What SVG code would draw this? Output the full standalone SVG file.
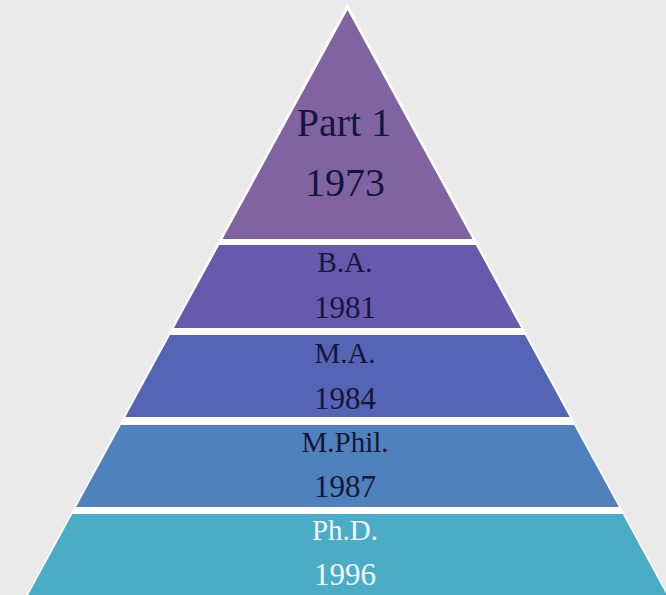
<svg xmlns="http://www.w3.org/2000/svg" width="666" height="595" viewBox="0 0 666 595">
  <style>
    .t { font-family: "Liberation Serif", "Times New Roman", serif; text-anchor: middle; fill: #16163a; }
    .big { font-size: 40px; }
    .lbl { font-size: 29px; }
    .yr { font-size: 31px; }
    .light { fill: #f2f8ff; }
  </style>
  <rect x="0" y="0" width="666" height="595" fill="#eaeaea"/>
  <polygon id="outline" points="347.5,3.7 671.3,600 23.7,600" fill="#ffffff"/>
  <g id="part1">
    <polygon points="347.5,10 472.5,239 222.5,239" fill="#8064a2"/>
    <text class="t big" x="344" y="136">Part 1</text>
    <text class="t big" x="345" y="196">1973</text>
  </g>
  <g id="ba">
    <polygon points="219.2,245 475.8,245 521.1,328 173.9,328" fill="#6759ac"/>
    <text class="t lbl" x="345" y="272">B.A.</text>
    <text class="t yr" x="345" y="318">1981</text>
  </g>
  <g id="ma">
    <polygon points="170,335 525,335 569.7,417 125.3,417" fill="#5564b4"/>
    <text class="t lbl" x="345" y="363">M.A.</text>
    <text class="t yr" x="345" y="409">1984</text>
  </g>
  <g id="mphil">
    <polygon points="120.9,425 574.1,425 618.9,507 76.1,507" fill="#4f81bd"/>
    <text class="t lbl" x="345" y="452">M.Phil.</text>
    <text class="t yr" x="345" y="497">1987</text>
  </g>
  <g id="phd">
    <polygon points="72.3,514 622.7,514 669.6,600 25.4,600" fill="#4bacc6"/>
    <text class="t lbl light" x="345" y="540">Ph.D.</text>
    <text class="t yr light" x="345" y="585">1996</text>
  </g>
</svg>
